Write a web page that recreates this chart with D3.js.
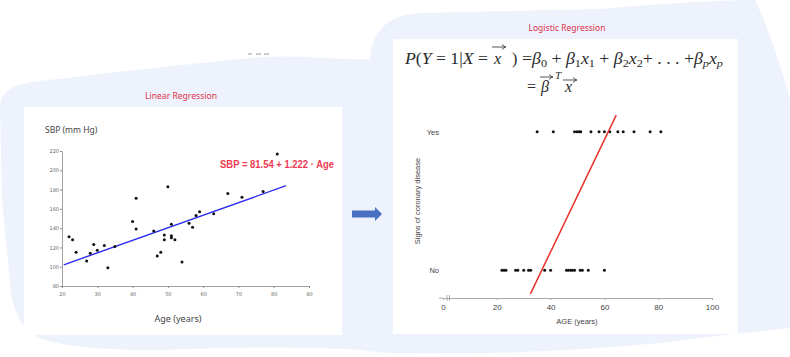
<!DOCTYPE html>
<html><head><meta charset="utf-8">
<script src="https://cdn.jsdelivr.net/npm/d3@7"></script>
<style>body{margin:0;background:#fff}svg{display:block}</style>
</head><body>
<svg id="c" width="790" height="357"></svg>
<script>
// ---- Linear regression data ----
const linAge = [22,23,24,27,28,29,30,32,33,35,40,41,41,46,47,48,49,49,50,51,51,51,52,54,56,57,58,59,63,67,71,77,81];
const linSBP = [131,128,115,106,114,123,117,122,99,121,147,171,139,137,111,115,133,128,183,144,132,130,128,105,145,141,153,157,155,176,172,178,217];
const linFitAge = [20.5, 83.5];
const linFitSBP = [102, 184];
const linXTicks = [20,30,40,50,60,70,80,90];
const linYTicks = [80,100,120,140,160,180,200,220];
// ---- Logistic regression data ----
const yesAge = [35,41,48.9,49.8,50.6,51.2,55,58,60,62,65,67,71,77,81];
const noAge = [21.9,22.7,23.4,27,27.8,30,31.8,32.6,37.8,40,45.9,46.6,47.4,48.1,48.9,51,51.8,54,60];
const logFitAge = [32.5, 64.4];
const logFitP = [-0.17, 1.12];
const logXTicks = [0,20,40,60,80,100];
const logYCats = ["No","Yes"];

const svg = d3.select("#c");
const bg = "#edf2fc";

// background blobs
svg.append("path").attr("fill", bg).attr("d",
 "M0,104 Q3,84 40,81 Q150,68 250,58 Q290,55 320,58 L385,60 L385,352 Q330,346 220,348 Q90,354 45,340 Q16,330 11,292 L2,200 Z");
svg.append("path").attr("fill", bg).attr("d",
 "M370,60 Q372,16 420,13 L600,9 Q690,1 755,0 Q774,40 790,100 L790,328 Q730,334 660,343 Q520,356 390,353 Q350,350 340,345 L340,60 Z");

// decorative dashes
[[248,252],[256,261],[264,269]].forEach(d=>svg.append("line").attr("x1",d[0]).attr("x2",d[1]).attr("y1",54).attr("y2",54).attr("stroke","#aab").attr("stroke-width",1.2));

// white panels
svg.append("rect").attr("x",24).attr("y",107).attr("width",318).attr("height",228).attr("fill","#fff");
svg.append("rect").attr("x",393).attr("y",39).attr("width",345).attr("height",295).attr("fill","#fff");

// titles
svg.append("text").attr("x",181).attr("y",99).attr("text-anchor","middle").attr("font-family","Noto Sans").attr("font-size",8.5).attr("fill","#e0314b").attr("textLength",72).attr("lengthAdjust","spacingAndGlyphs").text("Linear Regression");
svg.append("text").attr("x",567).attr("y",31).attr("text-anchor","middle").attr("font-family","Noto Sans").attr("font-size",8.5).attr("fill","#e0314b").attr("textLength",77).attr("lengthAdjust","spacingAndGlyphs").text("Logistic Regression");

// arrow
svg.append("path").attr("fill","#4a70c2").attr("d","M352,210.5 L375,210.5 L375,207 L382,214 L375,221 L375,217.5 L352,217.5 Z");

// ---- Linear chart ----
const lx = d3.scaleLinear().domain([20,90]).range([62,309]);
const ly = d3.scaleLinear().domain([80,220]).range([286,151]);
const lg = svg.append("g");
const yAx = lg.append("g").attr("transform","translate(62,0)").call(d3.axisLeft(ly).tickValues(linYTicks).tickSize(2).tickSizeOuter(0));
const xAx = lg.append("g").attr("transform","translate(0,286)").call(d3.axisBottom(lx).tickValues(linXTicks).tickSize(2).tickSizeOuter(0));
[yAx,xAx].forEach(a=>{a.select(".domain").attr("stroke","#8a8a8a").attr("stroke-width",0.8);a.selectAll("line").attr("stroke","#8a8a8a");a.selectAll("text").attr("font-family","DejaVu Sans").attr("font-size",5).attr("fill","#666");});
yAx.selectAll("text").attr("x",-3);
xAx.selectAll("text").attr("y",6);
lg.append("text").attr("x",45).attr("y",133).attr("font-family","Noto Sans").attr("font-size",8.5).attr("fill","#444").text("SBP (mm Hg)");
lg.append("text").attr("x",178).attr("y",322).attr("text-anchor","middle").attr("font-family","Noto Sans").attr("font-size",9).attr("fill","#444").text("Age (years)");
lg.append("line").attr("x1",lx(linFitAge[0])).attr("y1",ly(linFitSBP[0])).attr("x2",lx(linFitAge[1])).attr("y2",ly(linFitSBP[1])).attr("stroke","#2a2af0").attr("stroke-width",1.4);
lg.selectAll("circle.p").data(linAge.map((a,i)=>[a,linSBP[i]])).join("circle").attr("cx",d=>lx(d[0])).attr("cy",d=>ly(d[1])).attr("r",1.5).attr("fill","#111");
lg.append("text").attr("x",220).attr("y",167.5).attr("font-family","Liberation Sans").attr("font-weight","bold").attr("font-size",10).attr("fill","#ee3a52").attr("textLength",114).attr("lengthAdjust","spacingAndGlyphs").text("SBP = 81.54 + 1.222 · Age");

// ---- Logistic chart ----
const gx = d3.scaleLinear().domain([0,100]).range([443,712]);
const gy = d3.scaleLinear().domain([0,1]).range([270.3,131.7]);
const gg = svg.append("g");
const gAx = gg.append("g").attr("transform","translate(0,298)").call(d3.axisBottom(gx).tickValues(logXTicks).tickSize(2).tickSizeOuter(0));
gAx.select(".domain").attr("stroke","#aaa").attr("stroke-width",1);
gAx.selectAll("line").attr("stroke","#aaa");
gAx.selectAll("text").attr("font-family","Liberation Sans").attr("font-size",8).attr("fill","#444").attr("y",6);
gg.append("line").attr("x1",439).attr("x2",443).attr("y1",298).attr("y2",298).attr("stroke","#aaa");
[447,449.5].forEach(x=>gg.append("line").attr("x1",x).attr("x2",x).attr("y1",295).attr("y2",301).attr("stroke","#999").attr("stroke-width",0.8));
gg.selectAll("text.cat").data(logYCats).join("text").attr("class","cat").attr("x",439).attr("y",(d,i)=>gy(i)+3).attr("text-anchor","end").attr("font-family","Liberation Sans").attr("font-size",7.5).attr("fill","#444").text(d=>d);
gg.append("text").attr("transform","translate(419.5,201) rotate(-90)").attr("text-anchor","middle").attr("font-family","Liberation Sans").attr("font-size",7.5).attr("fill","#444").text("Signs of coronary disease");
gg.append("text").attr("x",577).attr("y",324).attr("text-anchor","middle").attr("font-family","Liberation Sans").attr("font-size",7.5).attr("fill","#444").text("AGE (years)");
gg.selectAll("circle.y").data(yesAge).join("circle").attr("cx",d=>gx(d)).attr("cy",gy(1)).attr("r",1.5).attr("fill","#111");
gg.selectAll("circle.n").data(noAge).join("circle").attr("cx",d=>gx(d)).attr("cy",gy(0)).attr("r",1.5).attr("fill","#111");
gg.append("line").attr("x1",gx(logFitAge[0])).attr("y1",gy(logFitP[0])).attr("x2",gx(logFitAge[1])).attr("y2",gy(logFitP[1])).attr("stroke","#e8302a").attr("stroke-width",1.5);

// ---- Formula ----
const fg = svg.append("g").attr("fill","#2a2a2a").attr("font-family","Liberation Serif").attr("font-size",16);
function vecArrow(x1,x2,y){
  fg.append("line").attr("x1",x1).attr("x2",x2-1).attr("y1",y).attr("y2",y).attr("stroke","#2a2a2a").attr("stroke-width",0.8);
  fg.append("path").attr("d",`M${x2-4},${y-2.5} Q${x2-2},${y-0.5} ${x2},${y} Q${x2-2},${y+0.5} ${x2-4},${y+2.5}`).attr("fill","none").attr("stroke","#2a2a2a").attr("stroke-width",0.8);
}
const t1 = fg.append("text").attr("x",405).attr("y",64).attr("textLength",83).attr("lengthAdjust","spacingAndGlyphs");
t1.append("tspan").attr("font-style","italic").text("P");
t1.append("tspan").text("(");
t1.append("tspan").attr("font-style","italic").text("Y");
t1.append("tspan").text(" = 1|");
t1.append("tspan").attr("font-style","italic").text("X");
t1.append("tspan").text(" =");
fg.append("text").attr("x",494).attr("y",64).attr("font-style","italic").text("x");
vecArrow(492,506,47);
fg.append("text").attr("x",512).attr("y",64).text(")");
const t2 = fg.append("text").attr("x",522).attr("y",64).attr("textLength",201).attr("lengthAdjust","spacingAndGlyphs");
const parts = [["="],["β","i"],["0","s"],[" + "],["β","i"],["1","s"],["x","i"],["1","s"],[" + "],["β","i"],["2","s"],["x","i"],["2","s"],["+ . . . +"],["β","i"],["p","si"],["x","i"],["p","si"]];
parts.forEach((p,i)=>{
  const ts = t2.append("tspan").text(p[0]);
  const isSub = p[1]==="s"||p[1]==="si";
  const prev = i>0 ? parts[i-1] : null;
  const prevSub = prev && (prev[1]==="s"||prev[1]==="si");
  if(p[1]==="i"||p[1]==="si") ts.attr("font-style","italic");
  if(isSub) ts.attr("font-size",11);
  let dy = 0;
  if(isSub && !prevSub) dy = 3;
  if(!isSub && prevSub) dy = -3;
  ts.attr("dy",dy);
});
fg.append("text").attr("x",527).attr("y",92).text("=");
fg.append("text").attr("x",541).attr("y",92).attr("font-style","italic").text("β");
vecArrow(540,553,77);
fg.append("text").attr("x",555).attr("y",79).attr("font-style","italic").attr("font-size",11).text("T");
fg.append("text").attr("x",565).attr("y",92).attr("font-style","italic").text("x");
vecArrow(563,577,80);
</script>
</body></html>
